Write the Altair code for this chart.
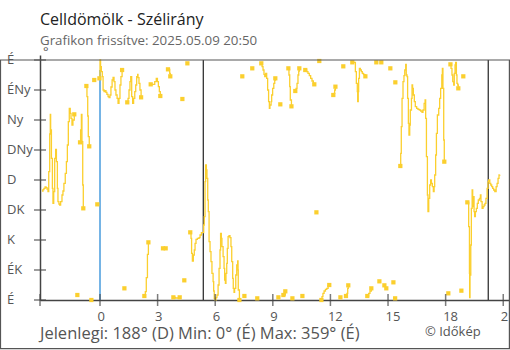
import altair as alt
import pandas as pd

# ---- text ----
TITLE = "Celldömölk - Szélirány"
SUBTITLE = "Grafikon frissítve: 2025.05.09 20:50"
FOOTER = "Jelenlegi: 188° (D)  Min: 0° (É)  Max: 359° (É)"
COPYRIGHT = "© Időkép"

# ---- axes ----
X_TICKS = [-3.125, 0, 3, 6, 9, 12, 15, 18, 21]
X_LABELS = [0, 3, 6, 9, 12, 15, 18, 21]
Y_TICKS = [0, 45, 90, 135, 180, 225, 270, 315, 360]
Y_NAMES = ["É", "ÉK", "K", "DK", "D", "DNy", "Ny", "ÉNy", "É"]

# ---- reference lines (hour, top degree) ----
MIDNIGHT_H = 0.0
SUNRISE_H = 5.38
SUNSET_H = 20.22

# ---- wind-direction segments (hours relative to midnight, degrees) ----
S01_H = [-3.02, -2.97, -2.92, -2.86, -2.81, -2.76, -2.71, -2.67, -2.62, -2.59, -2.57, -2.53, -2.48, -2.45, -2.41, -2.36, -2.31, -2.27, -2.22, -2.19, -2.14, -2.10, -2.05, -1.98, -1.93, -1.88, -1.81, -1.75, -1.70, -1.65, -1.60, -1.55, -1.51, -1.46, -1.41, -1.34]
S01_D = [163.5, 165.5, 167.5, 169.5, 168.5, 166.5, 162.5, 192.5, 249, 278.5, 255, 212.5, 167.5, 145, 162.5, 212.5, 226, 207.5, 167.5, 147.5, 144, 142.5, 147.5, 157.5, 163.5, 175, 190, 207.5, 232.5, 267.5, 287.5, 280, 272.5, 262.5, 270, 278.5]
S02_H = [-1.04, -1.01, -0.97, -0.94, -0.90, -0.87]
S02_D = [236.5, 255, 278.5, 237.5, 172.5, 137.5]
S03_H = [-0.71, -0.68, -0.64, -0.61, -0.56]
S03_D = [321, 305, 276, 245, 230.5]
S04_H = [-0.03, 0.00, 0.03, 0.07, 0.12, 0.16, 0.21, 0.26, 0.31, 0.36, 0.42, 0.47, 0.52, 0.57, 0.63, 0.68, 0.73, 0.78, 0.83, 0.89, 0.94, 0.99, 1.04, 1.09, 1.15]
S04_D = [332.5, 360, 350, 342.5, 335, 315, 312.5, 314, 311.5, 308.5, 305, 303.5, 307.5, 319.5, 330, 334, 327.5, 315, 307.5, 302.5, 295, 302.5, 322.5, 335, 345]
S05_H = [1.42, 1.46, 1.51, 1.56, 1.60, 1.65, 1.70, 1.75, 1.81, 1.86, 1.91, 1.96, 1.98, 2.03, 2.08, 2.14]
S05_D = [296.5, 302.5, 315, 327.5, 335, 305, 295, 302.5, 312.5, 322.5, 335, 338.5, 333.5, 325, 315, 304]
S06_H = [2.64, 2.67, 2.76, 2.85, 2.93, 2.99, 3.04, 3.09, 3.14]
S06_D = [323.5, 323.5, 323.5, 327.5, 332.5, 327.5, 320, 312.5, 306]
S07_H = [3.54, 3.63, 3.66]
S07_D = [346, 340, 335.5]
S08_H = [2.31, 2.36, 2.41, 2.47, 2.52]
S08_D = [6, 12.5, 33.5, 68.5, 86.5]
S09_H = [3.28, 3.42]
S09_D = [77.5, 77.5]
S10_H = [3.82, 3.92, 4.02, 4.15]
S10_D = [4, 3, 3, 4]
S11_H = [4.70, 4.74, 4.77, 4.81, 4.86, 4.91, 4.95, 5.00, 5.07, 5.16, 5.21, 5.28, 5.36, 5.40, 5.43, 5.47, 5.50, 5.54, 5.57, 5.61, 5.64, 5.68, 5.73, 5.78, 5.83, 5.89, 5.92, 5.95, 5.99, 6.04, 6.09, 6.15, 6.20, 6.25, 6.28, 6.32, 6.35, 6.41, 6.46, 6.49, 6.53, 6.56, 6.60, 6.63, 6.67, 6.72, 6.77, 6.82, 6.86, 6.91, 6.94, 6.98, 7.01, 7.07, 7.12, 7.17, 7.19, 7.20, 7.26]
S11_D = [101.5, 92.5, 70, 58.5, 67.5, 75, 85, 91, 92.5, 93.5, 97.5, 101, 101, 112.5, 125, 177.5, 202.5, 195, 182.5, 150, 132.5, 87.5, 72.5, 57.5, 40, 27.5, 13.5, 2.5, 0, 3.5, 7.5, 22.5, 47.5, 75, 100, 92.5, 80, 65, 47.5, 30, 25, 40, 55, 77.5, 95, 96.5, 93.5, 80, 57.5, 32.5, 17.5, 11.5, 17.5, 37.5, 52.5, 58.5, 45, 15, 0]
S12_H = [8.40, 8.44, 8.49, 8.54, 8.58, 8.63, 8.68, 8.73, 8.78, 8.82, 8.85, 8.91, 8.94, 8.99, 9.05, 9.10, 9.13]
S12_D = [355, 350, 345, 338.5, 335, 340, 332.5, 315, 297.5, 287.5, 292.5, 297.5, 307.5, 317.5, 325, 330, 332.5]
S13_H = [9.55, 9.65]
S13_D = [7.5, 13]
S14_H = [9.81, 9.84, 9.88, 9.91, 9.97]
S14_D = [347.5, 337.5, 320, 300, 290.5]
S15_H = [10.17, 10.21, 10.26, 10.31, 10.35, 10.38]
S15_D = [313.5, 317.5, 325, 337.5, 343.5, 347.5]
S16_H = [10.69, 10.76, 10.83, 10.90, 10.97, 11.04, 11.11, 11.16]
S16_D = [345, 342.5, 340, 336.5, 332.5, 328.5, 325, 323.5]
S17_H = [11.53, 11.56, 11.61, 11.67, 11.74, 11.81, 11.88, 11.94]
S17_D = [0, 5, 10, 13.5, 16, 17.5, 21, 22.5]
S18_H = [12.15, 12.19, 12.22, 12.26]
S18_D = [307.5, 310, 315, 320]
S19_H = [12.81, 12.86, 12.90, 12.93]
S19_D = [6, 10, 17.5, 22]
S20_H = [13.14, 13.23, 13.30, 13.35, 13.40, 13.42, 13.45, 13.47, 13.51, 13.56, 13.61, 13.66, 13.72, 13.77, 13.82]
S20_D = [356.5, 356.5, 342.5, 325, 312.5, 297.5, 312.5, 332.5, 347.5, 345, 342.5, 340, 338.5, 337.5, 335.5]
S21_H = [13.92, 13.99, 14.06, 14.13]
S21_D = [6, 10, 13.5, 17.5]
S22_H = [15.64, 15.66, 15.69, 15.73, 15.78, 15.83, 15.87, 15.92, 15.95, 15.99, 16.02, 16.06, 16.09, 16.13, 16.16, 16.22, 16.25, 16.28, 16.32, 16.37, 16.42, 16.49, 16.56, 16.63, 16.70, 16.77, 16.82, 16.88, 16.93, 16.96, 17.00, 17.05, 17.08, 17.12, 17.17, 17.22, 17.26, 17.31, 17.36, 17.40, 17.43, 17.48, 17.52, 17.57, 17.64, 17.69, 17.74, 17.80, 17.83, 17.86, 17.90, 17.93]
S22_D = [201, 220, 260, 302.5, 327.5, 336.5, 345, 353.5, 337.5, 335, 302.5, 265, 247.5, 262.5, 285, 302.5, 322.5, 317.5, 307.5, 297.5, 290, 287.5, 286, 285, 283.5, 281.5, 285, 295, 300, 272.5, 215, 157.5, 132.5, 152.5, 172.5, 180, 175, 170, 162.5, 170, 187.5, 217.5, 250, 277.5, 287.5, 302.5, 317.5, 337.5, 347.5, 317.5, 240, 207.5]
S23_H = [18.25, 18.28, 18.33, 18.37, 18.42, 18.45, 18.49, 18.52, 18.56, 18.59, 18.63, 18.66]
S23_D = [353.5, 347.5, 337.5, 327.5, 322.5, 340, 352.5, 356.5, 337.5, 325, 322.5, 317.5]
S24_H = [19.13, 19.17, 19.20, 19.24, 19.25, 19.27, 19.31, 19.34, 19.38, 19.41, 19.44, 19.48, 19.51, 19.55, 19.60, 19.65, 19.70, 19.76, 19.81, 19.84, 19.90, 19.95, 20.00, 20.05, 20.10, 20.16, 20.21, 20.24, 20.30, 20.35, 20.40, 20.45, 20.50, 20.56, 20.63, 20.68, 20.73, 20.78, 20.82]
S24_D = [146.5, 146.5, 110, 40, 3.5, 37.5, 82.5, 137.5, 165, 140, 155, 132.5, 125, 132.5, 137.5, 145, 150, 152.5, 157.5, 147.5, 137.5, 140, 142.5, 145, 152.5, 167.5, 177.5, 180, 175, 172.5, 170, 167.5, 165, 162.5, 170, 175, 182.5, 187.5, 188]

SEGMENTS = [
    (S01_H, S01_D), (S02_H, S02_D), (S03_H, S03_D), (S04_H, S04_D), (S05_H, S05_D),
    (S06_H, S06_D), (S07_H, S07_D), (S08_H, S08_D), (S09_H, S09_D), (S10_H, S10_D),
    (S11_H, S11_D), (S12_H, S12_D), (S13_H, S13_D), (S14_H, S14_D), (S15_H, S15_D),
    (S16_H, S16_D), (S17_H, S17_D), (S18_H, S18_D), (S19_H, S19_D), (S20_H, S20_D),
    (S21_H, S21_D), (S22_H, S22_D), (S23_H, S23_D), (S24_H, S24_D),
]
NO_END_MARK = {23}
NO_START_MARK = {0}

# isolated readings (drawn as squares)
ISO_H = [-1.18, -0.45, 1.27, -0.30, -0.14, 4.29, 4.55, 4.39, 7.52, 8.19, 9.29, 10.02, 10.54, 11.27, 7.41, 7.93, 9.39, 11.42, 12.67, 12.52, 14.55, 14.81, 14.91, 15.28, 15.37, 14.39, 14.65, 15.12, 15.38, 18.92, 18.14, 18.82]
ISO_D = [7.5, 0, 17.5, 330, 143.5, 301.5, 355, 29.5, 6, 2.5, 4, 2.5, 6, 131.5, 335.5, 347.5, 293.5, 358.5, 350.5, 4, 28, 22, 17.5, 26.5, 2.5, 356.5, 356.5, 347.5, 326.5, 335.5, 10, 14]

# ---- build tables ----
rows = []
marks = []
for i, (hs, ds) in enumerate(SEGMENTS):
    for h, d in zip(hs, ds):
        rows.append({"h": h, "deg": d, "seg": i})
    if i not in NO_START_MARK:
        marks.append({"h": hs[0], "deg": ds[0]})
    if i not in NO_END_MARK:
        marks.append({"h": hs[-1], "deg": ds[-1]})
for h, d in zip(ISO_H, ISO_D):
    marks.append({"h": h, "deg": d})
line_df = pd.DataFrame(rows)
mark_df = pd.DataFrame(marks)

rules_df = pd.DataFrame({
    "h": [MIDNIGHT_H, SUNRISE_H, SUNSET_H],
    "deg": [345, 360, 360],
    "bottom": [0, 0, 0],
    "c": ["#2b8cd8", "#333333", "#333333"],
})

XD = [-3.125, 21.3]
YD = [0, 367.5]
xs = alt.Scale(domain=XD, nice=False, zero=False)
ys = alt.Scale(domain=YD, nice=False, zero=False)

FONT = "Open Sans"
YELLOW = "#FBCF2E"
AXC = "#444444"
LBL = "#555555"

xaxis = alt.Axis(values=X_LABELS, ticks=False, tickSize=0, grid=False, title=None,
                 domainColor=AXC, domainWidth=1.5, labelAlign="left", labelOffset=-3,
                 labelPadding=10, labelFontSize=13, labelColor=LBL, labelFont=FONT,
                 labelFlush=False, labelOverlap=False)
yaxis = alt.Axis(values=Y_TICKS, ticks=False, tickSize=0, grid=False, title=None,
                 domainColor=AXC, domainWidth=1.5, labels=False)

X = alt.X("h:Q", scale=xs, axis=xaxis)
Y = alt.Y("deg:Q", scale=ys, axis=yaxis)

rules = alt.Chart(rules_df).mark_rule(strokeWidth=1.3).encode(
    x=X, y=Y, y2="bottom:Q",
    color=alt.Color("c:N", scale=None),
)

lines = alt.Chart(line_df).mark_line(interpolate="step-after", color=YELLOW, strokeWidth=1.3).encode(
    x=X, y=Y, detail="seg:N", order="h:Q",
)

squares = alt.Chart(mark_df).mark_square(size=18, color=YELLOW, opacity=1).encode(x=X, y=Y)

xt = alt.Chart(pd.DataFrame({"h": X_TICKS})).mark_tick(
    orient="vertical", size=12, thickness=1.5, color=AXC).encode(
    x=X, y=alt.YDatum(0))
yt = alt.Chart(pd.DataFrame({"deg": Y_TICKS})).mark_tick(
    orient="horizontal", size=12, thickness=1.5, color=AXC).encode(
    y=Y, x=alt.XDatum(XD[0]))

# compass-point labels of the y axis
ylab = alt.Chart(pd.DataFrame({"deg": Y_TICKS, "name": Y_NAMES})).mark_text(
    align="left", baseline="middle", fontSize=13, color=LBL, font=FONT).encode(
    y=Y, x=alt.value(-33), text="name:N")


def label(text, x, y, size, color, font=FONT):
    return alt.Chart(pd.DataFrame({"t": [text]})).mark_text(
        align="left", baseline="alphabetic", fontSize=size, color=color, font=font
    ).encode(text="t:N", x=alt.value(x), y=alt.value(y))


texts = [
    label(TITLE, 0, -30, 16, "#222222"),
    label(SUBTITLE, 0, -10, 13.3, "#666666"),
    label("°", 3, 1, 13, LBL),
    label(FOOTER, 0, 284, 16.5, LBL),
    label(COPYRIGHT, 385, 281, 13, LBL),
]

frame = alt.Chart(pd.DataFrame({"a": [0]})).mark_rect(
    fill=None, stroke="#555555", strokeWidth=1.2).encode(
    x=alt.value(-39.5), x2=alt.value(469.4), y=alt.value(5), y2=alt.value(293.6))

chart = alt.layer(rules, lines, squares, xt, yt, ylab, frame, *texts).properties(
    width=469, height=245,
    autosize=alt.AutoSizeParams(type="none"),
    padding={"left": 40, "top": 55, "right": 1, "bottom": 50},
    background="white",
).configure_view(stroke=None)

chart.save("out.html", embed_options={"renderer": "svg", "actions": False})
